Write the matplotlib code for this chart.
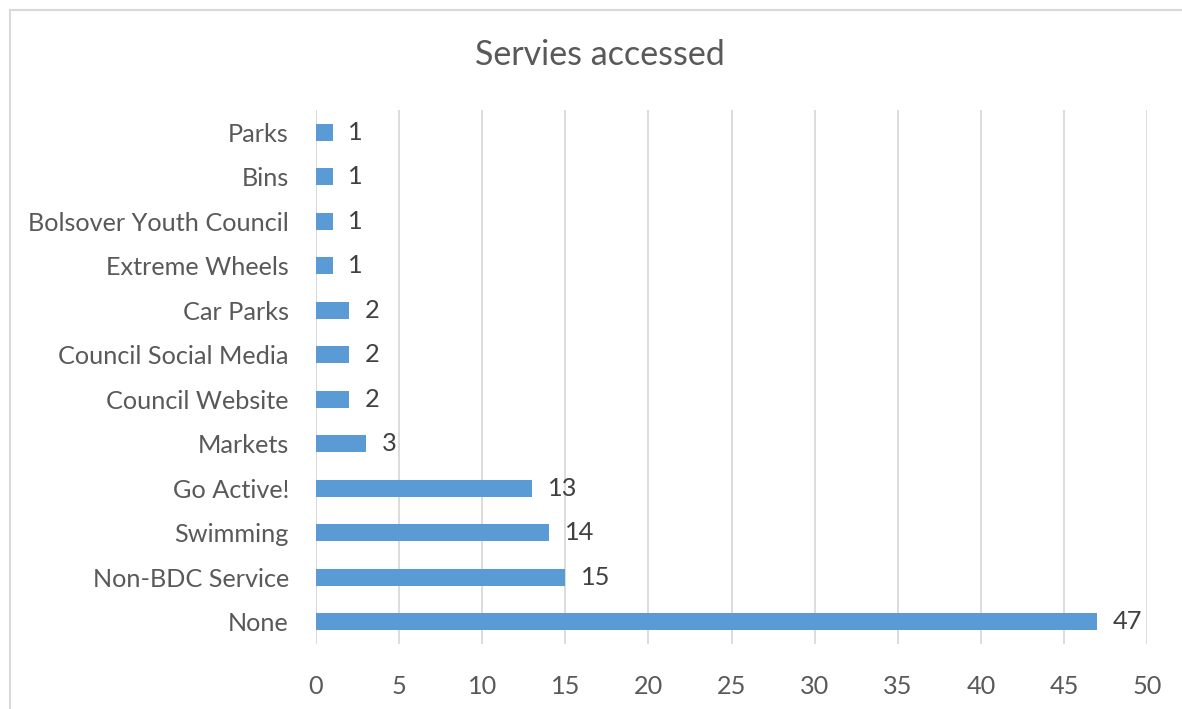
import matplotlib
matplotlib.use("Agg")
import matplotlib.pyplot as plt
from matplotlib.lines import Line2D

categories = ["None", "Non-BDC Service", "Swimming", "Go Active!", "Markets",
              "Council Website", "Council Social Media", "Car Parks",
              "Extreme Wheels", "Bolsover Youth Council", "Bins", "Parks"]
values = [47, 15, 14, 13, 3, 2, 2, 2, 1, 1, 1, 1]
xticks = [0, 5, 10, 15, 20, 25, 30, 35, 40, 45, 50]
title = "Servies accessed"

plt.rcParams['font.family'] = ['Lato', 'DejaVu Sans']
text_color = "#595959"
bar_color = "#5B9BD5"
grid_color = "#D9D9D9"

W, H = 1182, 709
fig = plt.figure(figsize=(W / 100, H / 100), dpi=100)
ax = fig.add_axes([316 / W, 1 - 644 / H, (1147 - 316) / W, (644 - 110) / H])

y = list(range(len(categories)))
ax.barh(y, values, height=0.38, color=bar_color, zorder=3)
for yi, v in zip(y, values):
    ax.text(v + 0.95, yi, str(v), va="center", ha="left", fontsize=18.3, color="#404040")

ax.set_xlim(0, 50)
ax.set_ylim(-0.5, len(categories) - 0.5)
ax.set_xticks(xticks)
ax.set_xticklabels([str(t) for t in xticks])
ax.set_yticks(y)
ax.set_yticklabels(categories)
ax.tick_params(axis="both", length=0, labelsize=18.2, colors=text_color)
ax.tick_params(axis="x", pad=22)
ax.tick_params(axis="y", pad=19.5)
ax.grid(axis="x", color=grid_color, linewidth=1.3, zorder=0)
for s in ax.spines.values():
    s.set_visible(False)
ax.axvline(0, color=grid_color, linewidth=1.3, zorder=1)

fig.text(600 / W, 1 - 55 / H, title, ha="center", va="center", fontsize=24.5, color=text_color)

# chart border (left and top visible)
fig.add_artist(Line2D([10 / W, 10 / W], [0, 1 - 10 / H], transform=fig.transFigure, color="#D9D9D9", lw=1.5))
fig.add_artist(Line2D([10 / W, 1], [1 - 10 / H, 1 - 10 / H], transform=fig.transFigure, color="#D9D9D9", lw=1.5))

fig.savefig("out.png", dpi=100)
